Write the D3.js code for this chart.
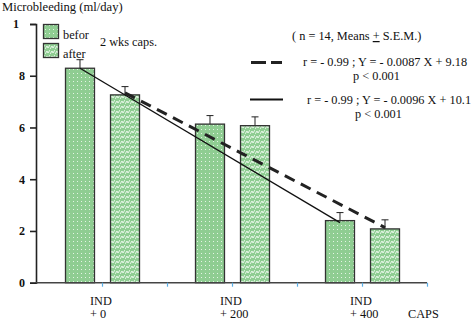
<!DOCTYPE html>
<html>
<head>
<meta charset="utf-8">
<script src="https://cdn.jsdelivr.net/npm/d3@7"></script>
<style>
  body { margin: 0; background: #fff; }
  svg text { font-family: "Liberation Serif", "Times New Roman", serif; fill: #111; }
</style>
</head>
<body>
<div id="chart"></div>
<script>
// microbleeding before / after 2 weeks of capsaicin
const groupLabels = [["IND", "+ 0"], ["IND", "+ 200"], ["IND", "+ 400"]];
const groupPos = [1, 3, 5];
const series = ["before", "after"];
const beforeValues = [8.29, 6.13, 2.40];
const afterValues = [7.26, 6.07, 2.08];
const beforeSem = [0.33, 0.33, 0.31];
const afterSem = [0.32, 0.34, 0.35];
const yTicks = [0, 2, 4, 6, 8, 10];
const yTickLabels = ["0", "2", "4", "6", "8", "1"];
const xMinorTicks = [1, 2, 3, 4, 5, 6];

// fitted lines, endpoints given as group index / series / value
const solidFit = [{ g: 0, s: "before", v: 8.29 }, { g: 2, s: "before", v: 2.32 }];
const dashedFit = [{ g: 0, s: "after", v: 7.34 }, { g: 2, s: "after", v: 2.13 }];

const width = 473, height = 323;
const fs = 12.3;
const svg = d3.select("#chart").append("svg").attr("width", width).attr("height", height);

const x = d3.scaleLinear().domain([0, 6]).range([37, 427]);
const xSub = d3.scaleBand().domain(series).range([-36.5, 37.5]).paddingInner(0.356);
const y = d3.scaleLinear().domain([0, 10]).range([282.7, 24]);

// fill patterns
const defs = svg.append("defs");
const dots = defs.append("pattern").attr("id", "dots").attr("patternUnits", "userSpaceOnUse")
  .attr("width", 4).attr("height", 4);
dots.append("rect").attr("width", 4).attr("height", 4).attr("fill", "#8fcd92");
dots.append("rect").attr("x", 1).attr("y", 1).attr("width", 1).attr("height", 1).attr("fill", "#e4f4e4");

const waves = defs.append("pattern").attr("id", "waves").attr("patternUnits", "userSpaceOnUse")
  .attr("width", 5).attr("height", 5);
waves.append("rect").attr("width", 5).attr("height", 5).attr("fill", "#8fcd92");
waves.append("path").attr("d", "M0,4 L2,1 L3,3 L5,0").attr("fill", "none")
  .attr("stroke", "#f2faf2").attr("stroke-width", 0.9);

const fills = { before: "url(#dots)", after: "url(#waves)" };

const rows = groupPos.map((p, i) => [
  { g: i, s: "before", v: beforeValues[i], e: beforeSem[i] },
  { g: i, s: "after", v: afterValues[i], e: afterSem[i] }
]).flat();

const barX = d => x(groupPos[d.g]) + xSub(d.s);

// error bars
const err = svg.append("g").attr("stroke", "#222").attr("stroke-width", 1);
rows.forEach(d => {
  const cx = barX(d) + xSub.bandwidth() / 2;
  err.append("line").attr("x1", cx).attr("x2", cx).attr("y1", y(d.v)).attr("y2", y(d.v + d.e));
  err.append("line").attr("x1", cx - 3.5).attr("x2", cx + 3.5).attr("y1", y(d.v + d.e)).attr("y2", y(d.v + d.e));
});

// bars
svg.append("g").selectAll("rect").data(rows).join("rect")
  .attr("x", barX)
  .attr("y", d => y(d.v))
  .attr("width", xSub.bandwidth())
  .attr("height", d => y(0) - y(d.v))
  .attr("fill", d => fills[d.s])
  .attr("stroke", "#333")
  .attr("stroke-width", 1.3);

// fitted lines
const fitLine = d3.line()
  .x(d => x(groupPos[d.g]) + xSub(d.s) + xSub.bandwidth() / 2)
  .y(d => y(d.v));
svg.append("path").attr("d", fitLine(solidFit)).attr("fill", "none")
  .attr("stroke", "#111").attr("stroke-width", 1.3);
svg.append("path").attr("d", fitLine(dashedFit)).attr("fill", "none")
  .attr("stroke", "#222").attr("stroke-width", 3).attr("stroke-dasharray", "11,7");

// y axis
const yAxis = svg.append("g").attr("transform", "translate(36,0)")
  .call(d3.axisLeft(y).tickValues(yTicks).tickSize(6).tickPadding(5)
    .tickFormat((d, i) => yTickLabels[i]));
yAxis.select(".domain").attr("stroke", "#222").attr("stroke-width", 1.6);
yAxis.selectAll(".tick line").attr("stroke", "#222").attr("stroke-width", 1.6);
yAxis.selectAll(".tick text").attr("font-size", 12).attr("font-weight", "bold")
  .attr("font-family", "Liberation Serif, serif").attr("fill", "#111");
yAxis.selectAll(".tick text").filter(d => d === 10).attr("dx", -6);

// x axis
const xAxis = svg.append("g").attr("transform", `translate(0,${y(0)})`)
  .call(d3.axisBottom(x).tickValues(xMinorTicks).tickSize(4).tickFormat(""));
xAxis.select(".domain").attr("d", `M36,0H${x(6)}`).attr("stroke", "#444").attr("stroke-width", 1.6);
xAxis.selectAll(".tick line").attr("stroke", "#5aaee6").attr("stroke-width", 1.2);

// category labels
groupLabels.forEach((lines, i) => {
  const t = svg.append("text").attr("x", x(groupPos[i]) - 12).attr("y", 305).attr("font-size", fs);
  lines.forEach((ln, j) => t.append("tspan").attr("x", x(groupPos[i]) - 12).attr("dy", j ? 13 : 0).text(ln));
});
svg.append("text").attr("x", 408).attr("y", 318).attr("font-size", fs).text("CAPS");

// titles and legend
svg.append("text").attr("x", 2).attr("y", 11).attr("font-size", 12.6).text("Microbleeding (ml/day)");

svg.append("rect").attr("x", 43.5).attr("y", 24.5).attr("width", 15).attr("height", 14)
  .attr("fill", fills.before).attr("stroke", "#333").attr("stroke-width", 1.3);
svg.append("rect").attr("x", 43.5).attr("y", 43.5).attr("width", 15).attr("height", 14)
  .attr("fill", fills.after).attr("stroke", "#333").attr("stroke-width", 1.3);
svg.append("text").attr("x", 63).attr("y", 39).attr("font-size", fs).text("befor");
svg.append("text").attr("x", 63).attr("y", 58).attr("font-size", fs).text("after");
svg.append("text").attr("x", 100).attr("y", 46).attr("font-size", fs).text("2 wks caps.");

const note = svg.append("text").attr("x", 292).attr("y", 40).attr("font-size", fs);
note.append("tspan").text("( n = 14,  Means ");
note.append("tspan").attr("text-decoration", "underline").text("+");
note.append("tspan").text(" S.E.M.)");

svg.append("line").attr("x1", 251).attr("x2", 282).attr("y1", 62.5).attr("y2", 62.5)
  .attr("stroke", "#222").attr("stroke-width", 3).attr("stroke-dasharray", "15,5");
svg.append("text").attr("x", 303).attr("y", 66).attr("font-size", fs).text("r = - 0.99 ; Y = - 0.0087 X + 9.18");
svg.append("text").attr("x", 353).attr("y", 80).attr("font-size", fs).text("p < 0.001");

svg.append("line").attr("x1", 250).attr("x2", 283).attr("y1", 99.5).attr("y2", 99.5)
  .attr("stroke", "#111").attr("stroke-width", 2);
svg.append("text").attr("x", 307).attr("y", 104).attr("font-size", fs).text("r = - 0.99 ; Y = - 0.0096 X + 10.1");
svg.append("text").attr("x", 355).attr("y", 118).attr("font-size", fs).text("p < 0.001");
</script>
</body>
</html>
